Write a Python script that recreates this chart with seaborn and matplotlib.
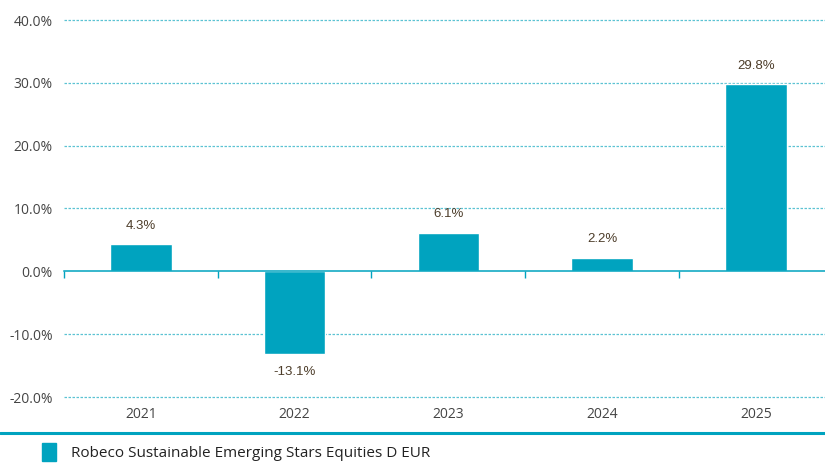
import matplotlib.pyplot as plt
import numpy as np
import pandas as pd
import seaborn as sns
from matplotlib.lines import Line2D
from matplotlib.ticker import FuncFormatter, FixedLocator

years = ["2021", "2022", "2023", "2024", "2025"]
returns = [4.3, -13.1, 6.1, 2.2, 29.8]
series_name = "Robeco Sustainable Emerging Stars Equities D EUR"

teal = "#00a3bf"
grid_teal = "#5cc3d3"

df = pd.DataFrame({"year": years, "ret": returns})

sns.set_style("white")
plt.rcParams["font.family"] = ["Open Sans", "DejaVu Sans"]

fig = plt.figure(figsize=(8.25, 4.65), dpi=100)
ax = fig.add_axes([64 / 825, 68 / 465, 761 / 825, 377 / 465])

sns.barplot(data=df, x="year", y="ret", color=teal, width=0.4, ax=ax,
            saturation=1, zorder=3)

ax.set_ylim(-20, 40)
ax.set_xlim(-0.5, 4.45)
ax.set_yticks(np.arange(-20, 41, 10))
ax.yaxis.set_major_formatter(FuncFormatter(lambda v, p: f"{v:.1f}%"))
for v in np.arange(-20, 41, 10):
    if v != 0:
        ax.axhline(v, color=grid_teal, lw=0.9, ls=(0, (2, 1.2)), zorder=1,
                   clip_on=False)

for s in ax.spines.values():
    s.set_visible(False)
ax.tick_params(axis="y", length=0, labelsize=10, labelcolor="#444444", pad=8)
ax.tick_params(axis="x", length=0, labelsize=10, labelcolor="#444444", pad=7)
ax.set_xlabel("")
ax.set_ylabel("")

# zero line with category separators
zero_frac = (0 - (-20)) / 60
sec = ax.secondary_xaxis(zero_frac)
sec.spines["bottom"].set_color(teal)
sec.spines["bottom"].set_linewidth(1.1)
sec.set_xticks([])
sec.xaxis.set_minor_locator(FixedLocator(np.arange(-0.5, 5, 1)))
sec.tick_params(which="minor", length=5, color=teal, width=1)
sec.set_zorder(4)

for i, r in enumerate(returns):
    off = 2.0 if r >= 0 else -2.0
    ax.text(i, r + off, f"{r:.1f}%", ha="center",
            va="bottom" if r >= 0 else "top", fontsize=9.5,
            color="#4d3d2a", family=["Liberation Sans", "DejaVu Sans"])

fig.add_artist(Line2D([0, 1], [1 - 433 / 465, 1 - 433 / 465],
                      color=teal, lw=2.2, transform=fig.transFigure))

handle = plt.Rectangle((0, 0), 1, 1, color=teal)
fig.legend([handle], [series_name], loc="center left",
           bbox_to_anchor=(28 / 825, 1 - 452 / 465), frameon=False,
           fontsize=11, handlelength=0.95, handleheight=1.45,
           handletextpad=0.95, labelcolor="#222222")

fig.savefig("out.png", dpi=100)
